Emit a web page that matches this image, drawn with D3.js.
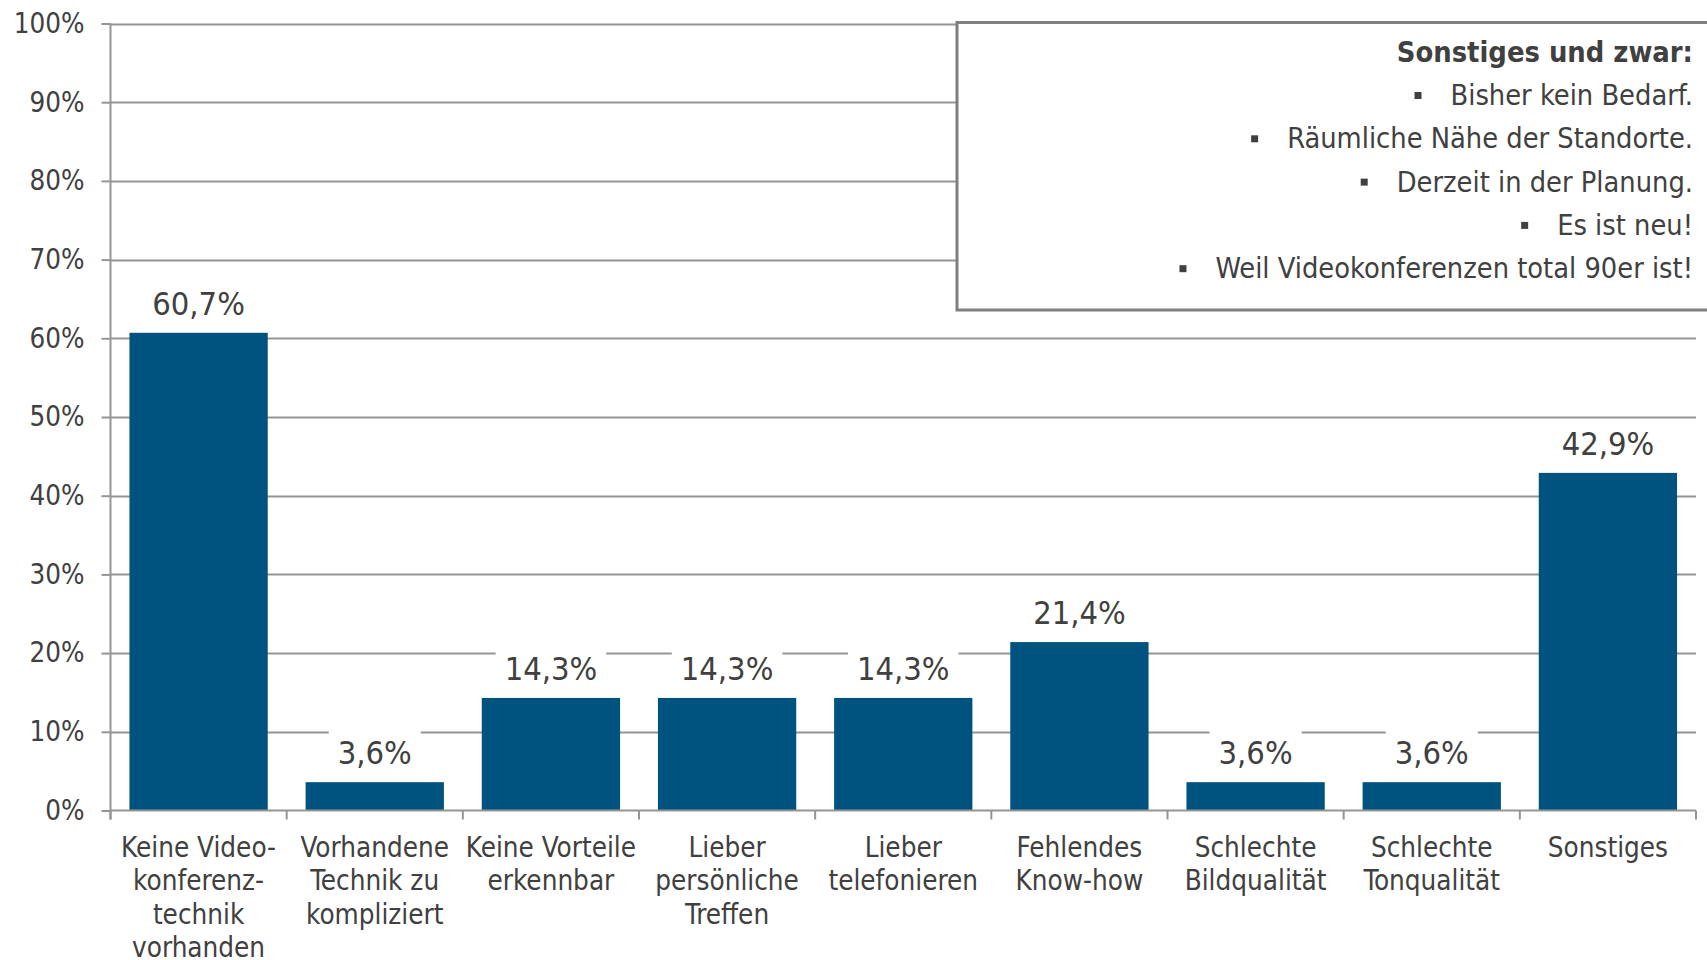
<!DOCTYPE html>
<html>
<head>
<meta charset="utf-8">
<script src="https://cdn.jsdelivr.net/npm/d3@7"></script>
<style>
  html, body { margin: 0; padding: 0; background: #fff; }
  svg { display: block; }
  text { font-family: 'DejaVu Sans Condensed', 'DejaVu Sans', sans-serif; font-stretch: condensed; fill: #404040; }
</style>
</head>
<body>
<svg id="chart" width="1707" height="960"></svg>
<script>
const categories = [
  "Keine Video-\nkonferenz-\ntechnik\nvorhanden",
  "Vorhandene\nTechnik zu\nkompliziert",
  "Keine Vorteile\nerkennbar",
  "Lieber\npersönliche\nTreffen",
  "Lieber\ntelefonieren",
  "Fehlendes\nKnow-how",
  "Schlechte\nBildqualität",
  "Schlechte\nTonqualität",
  "Sonstiges"
];
const values = [60.7, 3.6, 14.3, 14.3, 14.3, 21.4, 3.6, 3.6, 42.9];
const yTicks = [0, 10, 20, 30, 40, 50, 60, 70, 80, 90, 100];
const noteTitle = "Sonstiges und zwar:";
const noteItems = [
  "Bisher kein Bedarf.",
  "Räumliche Nähe der Standorte.",
  "Derzeit in der Planung.",
  "Es ist neu!",
  "Weil Videokonferenzen total 90er ist!"
];

const svg = d3.select("#chart");
const barColor = "#01537f";
const gridColor = "#959595";

const x = d3.scaleBand().domain(categories).range([110.5, 1696]).paddingInner(0.215).paddingOuter(0.1075);
const y = d3.scaleLinear().domain([0, 100]).range([810.5, 23.5]);

// gridlines
svg.append("g").selectAll("line").data(yTicks.filter(d => d > 0)).join("line")
  .attr("x1", 110.5).attr("x2", 1696)
  .attr("y1", d => Math.round(y(d)) + 0.5).attr("y2", d => Math.round(y(d)) + 0.5)
  .attr("stroke", gridColor).attr("stroke-width", 2);

// y axis
const yAxis = svg.append("g").attr("transform", "translate(110.5,0)")
  .call(d3.axisLeft(y).tickValues(yTicks).tickFormat(d => d + "%").tickSize(9).tickPadding(17));
yAxis.selectAll("path, line").attr("stroke", gridColor).attr("stroke-width", 2);
yAxis.selectAll("text").attr("font-size", 27.5).attr("fill", "#404040")
  .style("font-family", "'DejaVu Sans Condensed', 'DejaVu Sans', sans-serif");
yAxis.select(".domain").attr("d", `M0,${y(100)}V${y(0) + 9}`);

// bars
svg.append("g").selectAll("rect").data(values).join("rect")
  .attr("x", (d, i) => x(categories[i]))
  .attr("y", d => y(d))
  .attr("width", x.bandwidth())
  .attr("height", d => y(0) - y(d))
  .attr("fill", barColor);

// x axis line and category ticks
const gap = (x.step() - x.bandwidth()) / 2;
const bounds = categories.map(c => x(c) - gap).concat([x(categories[categories.length - 1]) + x.bandwidth() + gap]);
svg.append("line").attr("x1", 110.5).attr("x2", bounds[bounds.length - 1])
  .attr("y1", y(0)).attr("y2", y(0)).attr("stroke", gridColor).attr("stroke-width", 2);
svg.append("g").selectAll("line").data(bounds).join("line")
  .attr("x1", d => d).attr("x2", d => d)
  .attr("y1", y(0)).attr("y2", y(0) + 9)
  .attr("stroke", gridColor).attr("stroke-width", 2);

// category labels
const catG = svg.append("g");
categories.forEach(c => {
  const t = catG.append("text")
    .attr("x", x(c) + x.bandwidth() / 2)
    .attr("y", 857)
    .attr("text-anchor", "middle")
    .attr("font-size", 27.6);
  c.split("\n").forEach((line, j) => {
    t.append("tspan").attr("x", x(c) + x.bandwidth() / 2).attr("y", 857 + j * 33.4).text(line);
  });
});

// value labels with white boxes
const fmt = v => v.toFixed(1).replace(".", ",") + "%";
const labG = svg.append("g");
values.forEach((v, i) => {
  const cx = x(categories[i]) + x.bandwidth() / 2;
  const base = y(v) - 18;
  const g = labG.append("g");
  const rect = g.append("rect").attr("fill", "#fff");
  const t = g.append("text").attr("x", cx).attr("y", base)
    .attr("text-anchor", "middle").attr("font-size", 32.4).text(fmt(v));
  const w = t.node().getComputedTextLength();
  rect.attr("x", cx - w / 2 - 9).attr("width", w + 18)
    .attr("y", base - 34).attr("height", 45);
});

// note box
const noteG = svg.append("g");
noteG.append("rect").attr("x", 957).attr("y", 22.5).attr("width", 800).attr("height", 287.5)
  .attr("fill", "#fff").attr("stroke", "#7f7f7f").attr("stroke-width", 3);
noteG.append("text").attr("x", 1693).attr("y", 61.5).attr("text-anchor", "end")
  .attr("font-size", 28.8).attr("font-weight", "bold").text(noteTitle);
noteItems.forEach((s, i) => {
  const by = 105 + i * 43.3;
  const t = noteG.append("text").attr("x", 1693).attr("y", by).attr("text-anchor", "end")
    .attr("font-size", 28.7).text(s);
  const w = t.node().getComputedTextLength();
  noteG.append("rect").attr("x", 1693 - w - 29 - 7).attr("y", by - 13).attr("width", 7).attr("height", 7)
    .attr("fill", "#404040");
});
</script>
</body>
</html>
